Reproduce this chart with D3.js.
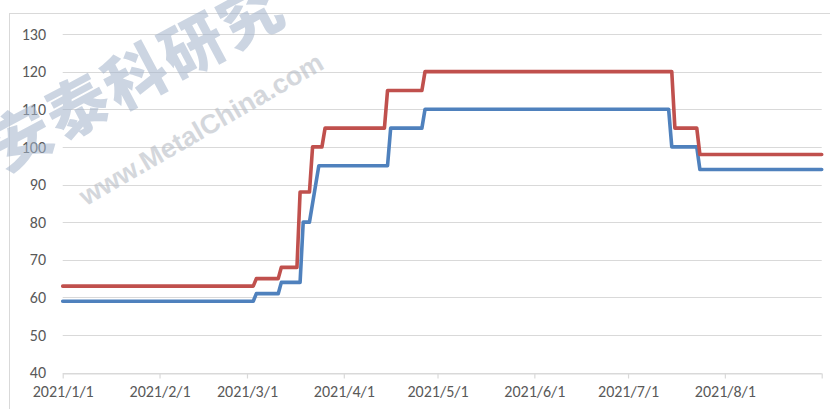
<!DOCTYPE html>
<html>
<head>
<meta charset="utf-8">
<script src="https://cdn.jsdelivr.net/npm/d3@7"></script>
<style>
  body { margin: 0; background: #fff; }
  svg { display: block; }
</style>
</head>
<body>
<div id="chart"></div>
<script>
// corner points of the two step lines (date, price)
const redDates = ["2021-01-01","2021-03-03","2021-03-04","2021-03-11","2021-03-12","2021-03-17","2021-03-18",
  "2021-03-21","2021-03-22","2021-03-25","2021-03-26","2021-04-14","2021-04-15","2021-04-26","2021-04-27",
  "2021-07-15","2021-07-16","2021-07-23","2021-07-24","2021-09-01"];
const redValues = [63,63,65,65,68,68,88,88,100,100,105,105,115,115,120,120,105,105,98,98];

const blueDates = ["2021-01-01","2021-03-03","2021-03-04","2021-03-11","2021-03-12","2021-03-18","2021-03-19",
  "2021-03-21","2021-03-24","2021-04-15","2021-04-16","2021-04-26","2021-04-27","2021-07-14","2021-07-15",
  "2021-07-23","2021-07-24","2021-09-01"];
const blueValues = [59,59,61,61,64,64,80,80,95,95,105,105,110,110,100,100,94,94];

const yTicks = [40,50,60,70,80,90,100,110,120,130];
const monthTicks = ["2021-01-01","2021-02-01","2021-03-01","2021-04-01","2021-05-01","2021-06-01","2021-07-01","2021-08-01","2021-09-01"];
const monthLabels = ["2021/1/1","2021/2/1","2021/3/1","2021/4/1","2021/5/1","2021/6/1","2021/7/1","2021/8/1",""];

const W = 830, H = 409;
const font = "Carlito, Calibri, 'Liberation Sans', Arial, sans-serif";

const svg = d3.select("#chart").append("svg")
    .attr("width", W)
    .attr("height", H);

// chart frame
svg.append("rect")
    .attr("x", 9.5).attr("y", 13.5)
    .attr("width", W).attr("height", H)
    .attr("fill", "none")
    .attr("stroke", "#d9d9d9");

const x = d3.scaleUtc()
    .domain([new Date("2021-01-01"), new Date("2021-09-01")])
    .range([62.7, 821.7]);

const y = d3.scaleLinear()
    .domain([40, 130])
    .range([372.7, 34]);

// gridlines
svg.append("g")
  .selectAll("line")
  .data(yTicks)
  .enter()
  .append("line")
    .attr("x1", x.range()[0])
    .attr("x2", x.range()[1])
    .attr("y1", d => Math.round(y(d)) + 0.5)
    .attr("y2", d => Math.round(y(d)) + 0.5)
    .attr("stroke", "#d9d9d9")
    .attr("stroke-width", 1.2);

// y labels
svg.append("g")
  .selectAll("text")
  .data(yTicks)
  .enter()
  .append("text")
    .attr("x", 46)
    .attr("y", d => y(d))
    .attr("dy", "0.35em")
    .attr("text-anchor", "end")
    .style("font-family", font)
    .style("font-size", "16px")
    .attr("fill", "#595959")
    .text(d => d);

// x axis: tick marks + labels
const xAxis = svg.append("g")
    .attr("transform", "translate(0," + (Math.round(y(40)) + 0.5) + ")")
    .call(d3.axisBottom(x)
      .tickValues(monthTicks.map(d => new Date(d)))
      .tickSize(5)
      .tickSizeOuter(0)
      .tickFormat((d, i) => monthLabels[i]));

xAxis.select(".domain").attr("stroke", "#d9d9d9").attr("stroke-width", 1.2);
xAxis.selectAll(".tick line").attr("stroke", "#d9d9d9").attr("stroke-width", 1.2);
xAxis.selectAll(".tick text")
    .attr("y", 11)
    .attr("dy", "0.75em")
    .style("font-family", font)
    .style("font-size", "16px")
    .attr("fill", "#595959");

const line = d3.line()
    .x(d => x(d[0]))
    .y(d => y(d[1]));

const blueData = blueDates.map((d, i) => [new Date(d), blueValues[i]]);
const redData = redDates.map((d, i) => [new Date(d), redValues[i]]);

svg.append("path")
    .datum(blueData)
    .attr("d", line)
    .attr("fill", "none")
    .attr("stroke", "#4f81bd")
    .attr("stroke-width", 3.6)
    .attr("stroke-linejoin", "round")
    .attr("stroke-linecap", "round");

svg.append("path")
    .datum(redData)
    .attr("d", line)
    .attr("fill", "none")
    .attr("stroke", "#c0504d")
    .attr("stroke-width", 3.6)
    .attr("stroke-linejoin", "round")
    .attr("stroke-linecap", "round");

// watermark
svg.append("text")
    .attr("transform", "translate(137,77) rotate(-28)")
    .attr("text-anchor", "middle")
    .attr("dy", "0.35em")
    .style("font-family", "'Noto Sans CJK SC', sans-serif")
    .style("font-weight", 900)
    .style("font-size", "62px")
    .style("letter-spacing", "3px")
    .attr("fill", "#a3b4cb")
    .attr("opacity", 0.55)
    .text("安泰科研究");

svg.append("text")
    .attr("transform", "translate(201,129) rotate(-30)")
    .attr("text-anchor", "middle")
    .attr("dy", "0.35em")
    .style("font-family", "'Liberation Sans', Arial, sans-serif")
    .style("font-weight", 700)
    .style("font-size", "27px")
    .attr("fill", "#b9bec6")
    .attr("opacity", 0.6)
    .text("www.MetalChina.com");
</script>
</body>
</html>
